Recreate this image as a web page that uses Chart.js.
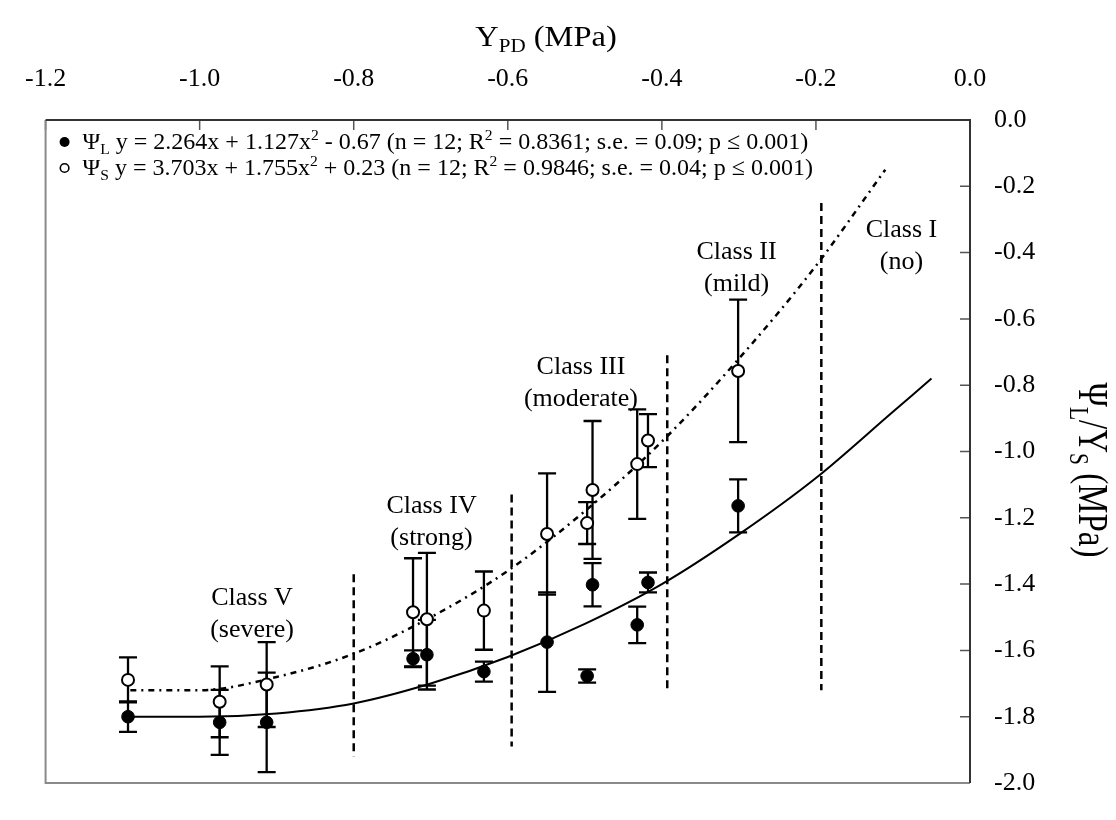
<!DOCTYPE html>
<html>
<head>
<meta charset="utf-8">
<title>Water potential stress classes</title>
<script src="https://cdn.jsdelivr.net/npm/chart.js@4.4.1/dist/chart.umd.min.js"></script>
<style>
  html, body { margin: 0; padding: 0; background: #fff; }
  #chart { display: block; }
</style>
</head>
<body>
<canvas id="chart" width="1116" height="820"></canvas>
<script>
// predawn potential (x axis) shared by both series
const psiPD = [-1.093, -0.974, -0.913, -0.723, -0.705, -0.631, -0.549, -0.497, -0.490, -0.432, -0.418, -0.301];

// leaf potential (filled) and its error
const psiL    = [-1.800, -1.817, -1.817, -1.625, -1.613, -1.664, -1.575, -1.677, -1.402, -1.523, -1.395, -1.164];
const psiLErr = [0.046, 0.098, 0.150, 0.025, 0.105, 0.030, 0.150, 0.020, 0.065, 0.055, 0.030, 0.080];

// stem potential (open) and its error
const psiS    = [-1.689, -1.755, -1.703, -1.485, -1.506, -1.480, -1.249, -1.216, -1.116, -1.038, -0.967, -0.757];
const psiSErr = [0.068, 0.107, 0.128, 0.163, 0.200, 0.118, 0.183, 0.063, 0.208, 0.165, 0.080, 0.215];

// fitted curves
const fitLx = [-1.09, -1.0, -0.9, -0.8, -0.7, -0.6, -0.5, -0.4, -0.3, -0.2, -0.1, -0.05];
const fitL  = [-1.80, -1.80, -1.79, -1.76, -1.70, -1.62, -1.52, -1.40, -1.25, -1.08, -0.88, -0.78];
const fitSx = [-1.09, -1.0, -0.9, -0.8, -0.7, -0.6, -0.5, -0.4, -0.3, -0.2, -0.11];
const fitS  = [-1.72, -1.72, -1.68, -1.61, -1.50, -1.36, -1.18, -0.97, -0.72, -0.44, -0.15];

// class boundaries (dashed verticals)
const classLineX      = [-0.80, -0.595, -0.393, -0.193];
const classLineTop    = [-1.37, -1.13, -0.71, -0.25];
const classLineBottom = [-1.92, -1.89, -1.72, -1.72];

// class labels
const classNames   = ['Class V', 'Class IV', 'Class III', 'Class II', 'Class I'];
const classDegrees = ['(severe)', '(strong)', '(moderate)', '(mild)', '(no)'];
const classLabelX  = [-0.932, -0.699, -0.505, -0.303, -0.089];
const classLabelY  = [-1.441, -1.164, -0.747, -0.398, -0.332];

const legendL = [{t: 'Ψ'}, {t: 'L', sub: true}, {t: ' y = 2.264x + 1.127x'}, {t: '2', sup: true},
  {t: ' - 0.67 (n = 12; R'}, {t: '2', sup: true}, {t: ' = 0.8361; s.e. = 0.09; p ≤ 0.001)'}];
const legendS = [{t: 'Ψ'}, {t: 'S', sub: true}, {t: ' y = 3.703x + 1.755x'}, {t: '2', sup: true},
  {t: ' + 0.23 (n = 12; R'}, {t: '2', sup: true}, {t: ' = 0.9846; s.e. = 0.04; p ≤ 0.001)'}];
const xTitle = [{t: 'Y'}, {t: 'PD', sub: true}, {t: ' (MPa)'}];
const yTitle = [{t: 'Ψ'}, {t: 'L', sub: true}, {t: '/Y'}, {t: 'S', sub: true}, {t: ' (MPa)'}];

const serif = '"Liberation Serif", "Times New Roman", Times, serif';

function runsWidth(ctx, runs, size) {
  let w = 0;
  runs.forEach(r => {
    ctx.font = (r.sub || r.sup ? size * 0.65 : size) + 'px ' + serif;
    w += ctx.measureText(r.t).width;
  });
  return w;
}

// draws text runs from the current origin, baseline at 0
function drawRuns(ctx, runs, size) {
  let x = 0;
  ctx.textAlign = 'left';
  ctx.textBaseline = 'alphabetic';
  runs.forEach(r => {
    const s = r.sub || r.sup ? size * 0.65 : size;
    ctx.font = s + 'px ' + serif;
    const dy = r.sub ? size * 0.22 : (r.sup ? -size * 0.38 : 0);
    ctx.fillText(r.t, x, dy);
    x += ctx.measureText(r.t).width;
  });
}

const fmt = v => Math.abs(v) < 1e-9 ? '0.0' : v.toFixed(1);

const extras = {
  id: 'extras',
  beforeDatasetsDraw(chart) {
    const {ctx, scales: {x, y}} = chart;
    ctx.save();
    ctx.strokeStyle = '#000';
    ctx.lineWidth = 2.3;
    const bars = (vals, errs) => vals.forEach((v, i) => {
      const px = x.getPixelForValue(psiPD[i]);
      const y1 = y.getPixelForValue(v + errs[i]);
      const y2 = y.getPixelForValue(v - errs[i]);
      ctx.beginPath();
      ctx.moveTo(px, y1); ctx.lineTo(px, y2);
      ctx.moveTo(px - 9, y1); ctx.lineTo(px + 9, y1);
      ctx.moveTo(px - 9, y2); ctx.lineTo(px + 9, y2);
      ctx.stroke();
    });
    bars(psiS, psiSErr);
    bars(psiL, psiLErr);
    ctx.restore();
  },
  afterDraw(chart) {
    const {ctx, chartArea: a, scales: {x, y}} = chart;
    ctx.save();

    // inward tick marks
    ctx.lineWidth = 1.5;
    ctx.strokeStyle = '#555';
    ctx.beginPath();
    x.ticks.forEach(t => {
      const px = x.getPixelForValue(t.value);
      ctx.moveTo(px, a.top); ctx.lineTo(px, a.top + 10);
    });
    y.ticks.forEach(t => {
      const py = y.getPixelForValue(t.value);
      ctx.moveTo(a.right - 10, py); ctx.lineTo(a.right, py);
    });
    ctx.stroke();

    // frame
    ctx.lineWidth = 2;
    ctx.strokeStyle = '#8a8a8a';
    ctx.beginPath();
    ctx.moveTo(a.left, a.top); ctx.lineTo(a.left, a.bottom); ctx.lineTo(a.right, a.bottom);
    ctx.stroke();
    ctx.strokeStyle = '#333';
    ctx.beginPath();
    ctx.moveTo(a.left, a.top); ctx.lineTo(a.right, a.top); ctx.lineTo(a.right, a.bottom);
    ctx.stroke();

    ctx.fillStyle = '#000';

    // class labels
    ctx.font = '26px ' + serif;
    ctx.textAlign = 'center';
    ctx.textBaseline = 'middle';
    classNames.forEach((n, i) => {
      const px = x.getPixelForValue(classLabelX[i]);
      const py = y.getPixelForValue(classLabelY[i]);
      ctx.fillText(n, px, py);
      ctx.fillText(classDegrees[i], px, py + 32);
    });

    // legend
    [[legendL, 29, true], [legendS, 55, false]].forEach(([runs, dy, filled]) => {
      ctx.beginPath();
      ctx.arc(a.left + 19, a.top + dy - 7, filled ? 5 : 4.3, 0, Math.PI * 2);
      if (filled) { ctx.fill(); } else { ctx.lineWidth = 1.6; ctx.strokeStyle = '#000'; ctx.stroke(); }
      ctx.save();
      ctx.translate(a.left + 37, a.top + dy);
      drawRuns(ctx, runs, 24);
      ctx.restore();
    });

    // top axis title
    const tw = runsWidth(ctx, xTitle, 29) * 1.12;
    ctx.save();
    ctx.translate(546 - tw / 2, 46);
    ctx.scale(1.12, 1);
    drawRuns(ctx, xTitle, 29);
    ctx.restore();

    // right axis title, reading downwards
    const yw = runsWidth(ctx, yTitle, 33);
    ctx.save();
    ctx.translate(1079, 470);
    ctx.rotate(Math.PI / 2);
    ctx.scale(1, 1.25);
    ctx.translate(-yw / 2, 0);
    drawRuns(ctx, yTitle, 33);
    ctx.restore();

    ctx.restore();
  }
};

const datasets = [
  {
    label: 'ΨL',
    data: psiPD.map((v, i) => ({x: v, y: psiL[i]})),
    backgroundColor: '#000',
    borderColor: '#000',
    borderWidth: 1,
    pointRadius: 6.3,
    order: 0
  },
  {
    label: 'ΨS',
    data: psiPD.map((v, i) => ({x: v, y: psiS[i]})),
    backgroundColor: '#fff',
    borderColor: '#000',
    borderWidth: 2,
    pointRadius: 6,
    order: 0
  },
  {
    type: 'line',
    label: 'fit L',
    data: fitLx.map((v, i) => ({x: v, y: fitL[i]})),
    borderColor: '#000',
    borderWidth: 2,
    pointRadius: 0,
    cubicInterpolationMode: 'monotone',
    order: 2
  },
  {
    type: 'line',
    label: 'fit S',
    data: fitSx.map((v, i) => ({x: v, y: fitS[i]})),
    borderColor: '#000',
    borderWidth: 2.5,
    borderDash: [6, 5, 2, 5],
    pointRadius: 0,
    cubicInterpolationMode: 'monotone',
    order: 2
  }
];

classLineX.forEach((v, i) => {
  datasets.push({
    type: 'line',
    label: 'boundary ' + i,
    data: [{x: v, y: classLineTop[i]}, {x: v, y: classLineBottom[i]}],
    borderColor: '#000',
    borderWidth: 2.5,
    borderDash: [8, 5],
    pointRadius: 0,
    order: 3
  });
});

new Chart(document.getElementById('chart'), {
  type: 'scatter',
  data: {datasets},
  options: {
    responsive: false,
    animation: false,
    devicePixelRatio: 1,
    layout: {padding: {left: 31, right: 0, top: 0, bottom: 13}},
    plugins: {legend: {display: false}, tooltip: {enabled: false}},
    scales: {
      x: {
        type: 'linear',
        position: 'top',
        min: -1.2,
        max: 0,
        afterFit: s => { s.height = 120; },
        ticks: {
          stepSize: 0.2,
          callback: fmt,
          color: '#000',
          padding: 25,
          maxRotation: 0,
          font: {family: serif, size: 26}
        },
        grid: {display: false, drawTicks: false},
        border: {display: false}
      },
      y: {
        type: 'linear',
        position: 'right',
        min: -2,
        max: 0,
        afterFit: s => { s.width = 146; },
        ticks: {
          stepSize: 0.2,
          callback: fmt,
          color: '#000',
          padding: 24,
          font: {family: serif, size: 26, lineHeight: 1}
        },
        grid: {display: false, drawTicks: false},
        border: {display: false}
      }
    }
  },
  plugins: [extras]
});
</script>
</body>
</html>
